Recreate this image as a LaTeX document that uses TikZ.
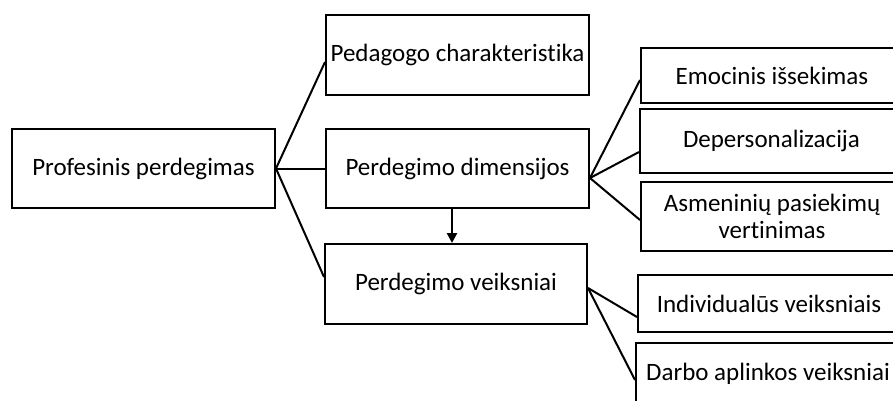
\documentclass[tikz,border=0pt]{standalone}
\usepackage{fontspec}
\setmainfont{Carlito}[Ligatures=NoCommon]
\usetikzlibrary{arrows.meta}
\begin{document}
\begin{tikzpicture}[x=1pt,y=-1pt,
  box/.style={draw=black,line width=2pt,fill=white,rectangle,inner sep=0pt,align=center,
    font=\fontsize{25}{27}\selectfont},
  link/.style={draw=black,line width=2pt}]
\useasboundingbox (0,0) rectangle (893,400);
\clip (0,0) rectangle (893,400);
\fill[white] (0,0) rectangle (893,400);
\node[box,minimum width=263pt,minimum height=79pt] (prof) at (143.5,168.5) {Profesinis perdegimas};
\node[box,minimum width=263pt,minimum height=80pt] (ped) at (457.5,55) {Pedagogo charakteristika};
\node[box,minimum width=263pt,minimum height=79pt] (dim) at (457.5,168.5) {Perdegimo dimensijos};
\node[box,minimum width=262pt,minimum height=80pt] (veik) at (456,284) {Perdegimo veiksniai};
\node[box,minimum width=262pt,minimum height=55pt] (emo) at (772,75.5) {Emocinis išsekimas};
\node[box,minimum width=263pt,minimum height=64pt] (dep) at (771.5,141) {Depersonalizacija};
\node[box,minimum width=262pt,minimum height=69pt] (asm) at (772,216.5) {Asmeninių pasiekimų\\vertinimas};
\node[box,minimum width=262pt,minimum height=57pt] (ind) at (769,303.5) {Individualūs veiksniais};
\node[box,minimum width=264pt,minimum height=62pt] (dar) at (768,374) {Darbo aplinkos veiksniai};
\draw[link] (prof.east) -- ([yshift=-7pt]ped.west);
\draw[link] (prof.east) -- (dim.west);
\draw[link] (prof.east) -- ([yshift=7pt]veik.west);
\draw[link] ([yshift=-9.5pt]dim.east) -- ([yshift=-4.5pt]emo.west);
\draw[link] ([yshift=-9.5pt]dim.east) -- ([yshift=-11pt]dep.west);
\draw[link] ([yshift=-9.5pt]dim.east) -- ([yshift=-3.5pt]asm.west);
\draw[link] ([yshift=-4pt]veik.east) -- ([yshift=-13.5pt]ind.west);
\draw[link] ([yshift=-4pt]veik.east) -- ([yshift=-6pt]dar.west);
\draw[link,line width=2.5pt,-{Triangle[length=10pt,width=10pt]}] ([xshift=-5.5pt]dim.south) -- ([xshift=-5.5pt]dim.south |- veik.north);
\end{tikzpicture}
\end{document}
